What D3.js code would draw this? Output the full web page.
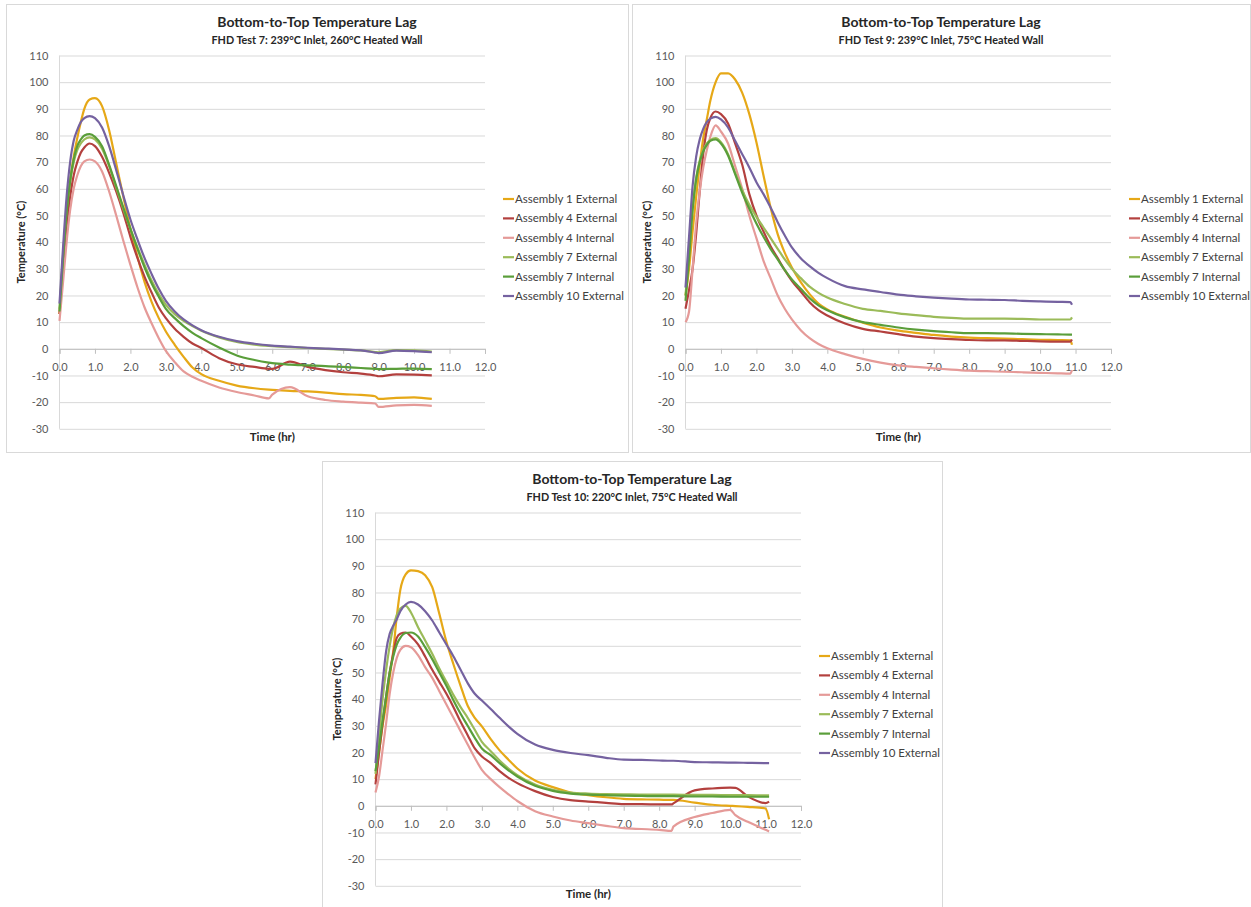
<!DOCTYPE html>
<html>
<head>
<meta charset="utf-8">
<script src="https://cdn.jsdelivr.net/npm/d3@7"></script>
<style>
  body { margin: 0; background: #fff; }
  text { font-family: Lato, "Open Sans", sans-serif; }
</style>
</head>
<body>
<svg id="chart" width="1251" height="907"></svg>
<script>
// ---- Data ----
const seriesNames = ["Assembly 1 External", "Assembly 4 External", "Assembly 4 Internal",
                     "Assembly 7 External", "Assembly 7 Internal", "Assembly 10 External"];
const seriesColors = ["#E6A817", "#B3403E", "#E59A98", "#9BBB59", "#5A9E3A", "#7562A0"];
const yTicks = [-30, -20, -10, 0, 10, 20, 30, 40, 50, 60, 70, 80, 90, 100, 110];
const xTicks = [0, 1, 2, 3, 4, 5, 6, 7, 8, 9, 10, 11, 12];

// FHD Test 7
const test7Time = [0,0.1,0.2,0.3,0.4,0.5,0.6,0.7, 0.85,1.0, 1.2,1.4,1.6,1.8,2.0, 2.2,2.4,2.6,2.8,3.0,
  3.25,3.5,3.75,4.0, 4.5,5.0,5.5,5.9,6.0, 6.5,7.0,7.5,8.0, 8.5,8.9,9.0, 9.5,10.0,10.5];
const test7A1Ext = [13,32,50,63,72,79,85,90, 93.5,94, 91,82,69.5,57,45, 34.5,25,17.5,11.5,6.5,
  1.5,-3,-7,-9.5, -12,-13.8,-14.8,-15.3,-15.4, -15.8,-16,-16.4,-17, -17.3,-17.8,-18.8, -18.4,-18.2,-18.8];
const test7A4Ext = [13,30,46,57,65,70,73.5,75.5, 77,76, 72,66,59,51,42, 34,27,21,15.5,11.5,
  7.5,4.5,2,0.3, -3.5,-5.8,-6.8,-7.5,-7.5, -4.8,-6.8,-8,-8.8, -9.3,-10,-10.3, -9.6,-9.7,-10];
const test7A4Int = [10.5,25,40,52,60,65,68.5,70.3, 71,70.3, 66.5,59,50,40.5,31.5, 23,15.5,9.5,4,-0.8,
  -5,-8.5,-10.5,-12, -14.5,-16.2,-17.5,-18.6,-17.2, -14.4,-17.8,-19.2,-19.8, -20.2,-20.5,-21.8, -21.2,-21,-21.4];
const test7A7Ext = [15,35,52,63,70,74.5,77,78.5, 79.3,78.5, 75,68.5,60.5,52.5,45, 38,31.5,25.5,20.5,16.5,
  13,10.5,8.5,6.8, 4.3,2.6,1.6,1.1,1, 0.6,0.3,0,-0.3, -0.6,-1.2,-1.3, -0.5,-0.6,-1.0];
const test7A7Int = [14,34,51,63,71,76,78.5,80, 80.5,79.5, 76,69,61,53,45, 37.5,30.5,24.5,19.5,15,
  11.5,8.5,6,4, 0.5,-2.5,-4.2,-5.2,-5.4, -5.9,-6.2,-6.5,-6.8, -7.2,-7.5,-7.6, -7.5,-7.4,-7.6];
const test7A10Ext = [17,38,57,70,78,82,85,86.5, 87.3,86.5, 83,76,67,57.5,48.5, 41,34,28,22.5,18,
  14,11,8.8,7, 4.5,2.9,1.9,1.3,1.2, 0.8,0.4,0.1,-0.2, -0.6,-1.4,-1.6, -0.7,-0.9,-1.3];

// FHD Test 9
const test9Time = [0,0.1,0.2,0.3,0.4,0.5,0.6,0.7, 0.85,1.0, 1.2,1.4,1.6,1.8,2.0, 2.2,2.4,2.6,2.8,3.0,
  3.25,3.5,3.75,4.0, 4.5,5.0,5.5,6.0, 6.5,7.0,7.5,8.0, 8.5,9.0,9.5,10.0, 10.5,10.85,10.9];
const test9A1Ext = [20,30,44,57,69,79,86,93, 100,103.3, 103.3,101, 96,88,77.5, 65,53,43,36,30.5,
  25,20.5,17,14.8, 12,9.8,8,6.8, 6,5.2,4.6,4.2, 4,3.8,3.6,3.4, 3.3,3.2,1.5];
const test9A4Ext = [15,22,30,43,59,73,82,86.5, 89,88, 84.5,77,69,58,50, 44,38.5,34,29.5,25.5,
  21.5,17.5,14.5,12.5, 9.5,7.5,6.5,5.5, 4.6,4,3.6,3.3, 3.2,3.2,3,2.8, 2.7,2.7,3.5];
const test9A4Int = [10,14,30,47,59,68,74.5,79.5, 83.8,81.5, 77,68.5,60,50,41.5, 33,26.5,20,15,11,
  7,4,1.8,0.2, -2,-3.8,-5.2,-6.2, -6.8,-7.3,-7.8,-8.2, -8.4,-8.6,-8.8,-9, -9.2,-9.3,-8];
const test9A7Ext = [20,36,53,64,70.5,74.5,77,78.3, 79,77.5, 73,66,59.5,54,49.5, 45.5,41.5,37.5,33.5,30,
  26.5,23.3,21,19.2, 16.8,15,14.2,13.3, 12.6,12,11.6,11.3, 11.3,11.3,11.2,11, 11,11,11.8];
const test9A7Int = [18,34,52,63.5,70,74,76.5,78, 78.5,77, 72.5,65.5,58.5,52.5,47, 42,37.5,33.5,29.5,26,
  22.5,19,16.3,14.5, 11.8,10,9,8, 7.2,6.6,6.2,5.9, 5.9,5.8,5.6,5.5, 5.4,5.3,5.3];
const test9A10Ext = [23,42,61,72,78.5,82.5,85,86.3, 87,86, 83,78,73,68,62.5, 58,53,47.5,42.5,38,
  34,31,28.5,26.5, 23.5,22.3,21.3,20.3, 19.7,19.2,18.8,18.5, 18.4,18.3,18,17.8, 17.6,17.5,16.5];

// FHD Test 10
const test10Time = [0,0.1,0.2,0.3,0.4,0.5,0.6,0.7, 0.85,1.0, 1.2,1.4,1.6,1.8,2.0, 2.2,2.4,2.6,2.8,3.0,
  3.25,3.5,3.75,4.0, 4.5,5.0,5.5,6.0, 6.5,7.0,7.5,8.0, 8.35,8.4,9.0,9.5, 10.0,10.15,10.5,11.0,11.1];
const test10A1Ext = [10,20,30,38,48,58,71,81, 86.8,88.3, 88,86.5,82,72,61.5, 53,45,37.5,33,29.8,
  25,20.8,17.3,14, 9.5,7,5,4, 3.2,2.6,2.4,2.3, 2.2,2.2,1.2,0.4, 0,-0.1,-0.4,-1,-5];
const test10A4Ext = [8,20,31,41,50,57,63,64.5, 65,63.5, 60.5,56,51,46.5,42, 37,31.5,26.5,21.5,18.5,
  16,13,10.5,8.5, 5.5,3.3,2.1,1.6, 1.1,0.6,0.6,0.5, 0.5,0.9,5.8,6.5, 6.8,6.7,3.5,1,1.6];
const test10A4Int = [5,11,21,31,42,50,55.5,58.5, 60,59.5, 56.5,52,48,43,38, 33,28,23,18,13.5,
  10,7,4.3,1.8, -2,-4,-5.5,-6.5, -7.5,-8.4,-8.7,-9, -9.4,-7.8,-4.2,-2.7, -1.5,-3.5,-6,-9,-9.6];
const test10A7Ext = [12,26,40,51,60,67,71.5,74, 75,72.5, 67,62,57,51.5,46.5, 41.5,37,33,28.5,24,
  20.5,17,14,11.5, 8,6,5,4.6, 4.4,4.3,4.2,4.2, 4.2,4.2,4.1,4.1, 4,4,4,3.9,3.9];
const test10A7Int = [13,22,32,41,50,56,60.5,63, 64.8,65, 63.5,59.5,55,50,45, 39.5,34.5,30,25.5,21.5,
  19,16,13.3,11, 7.5,5.6,4.6,4.2, 4,3.8,3.7,3.6, 3.6,3.6,3.5,3.5, 3.4,3.4,3.4,3.4,3.4];
const test10A10Ext = [16,32,46,58,64.5,67.5,70,73, 75.5,76.5, 75.5,73,69.5,65,60.5, 56,51,46,42,39.5,
  36.3,33,29.8,27, 23,21,19.8,19, 18,17.3,17.2,17, 16.9,16.9,16.4,16.3, 16.2,16.2,16.1,16,16];

const charts = [
  { title: "Bottom-to-Top Temperature Lag", subtitle: "FHD Test 7: 239°C Inlet, 260°C Heated Wall",
    time: test7Time, series: [test7A1Ext, test7A4Ext, test7A4Int, test7A7Ext, test7A7Int, test7A10Ext] },
  { title: "Bottom-to-Top Temperature Lag", subtitle: "FHD Test 9: 239°C Inlet, 75°C Heated Wall",
    time: test9Time, series: [test9A1Ext, test9A4Ext, test9A4Int, test9A7Ext, test9A7Int, test9A10Ext] },
  { title: "Bottom-to-Top Temperature Lag", subtitle: "FHD Test 10: 220°C Inlet, 75°C Heated Wall",
    time: test10Time, series: [test10A1Ext, test10A4Ext, test10A4Int, test10A7Ext, test10A7Int, test10A10Ext] }
];

// ---- Layout ----
const frames = [
  { x: 6, y: 4, w: 622, h: 448 },
  { x: 632, y: 4, w: 618, h: 448 },
  { x: 322, y: 461, w: 620, h: 446 }
];
const plotLeft = 53.5, plotWidth = 425.5, plotTop = 51.5, plotHeight = 373.3;

const svg = d3.select("#chart");
svg.append("rect").attr("width", 1251).attr("height", 907).attr("fill", "#fff");

function drawPanel(cfg, f) {
  const g = svg.append("g").attr("transform", `translate(${f.x},${f.y})`);

  g.append("rect")
    .attr("x", 0.5).attr("y", 0.5)
    .attr("width", f.w).attr("height", f.h)
    .attr("fill", "#fff").attr("stroke", "#d9d9d9");

  const xScale = d3.scaleLinear().domain([0, 12]).range([plotLeft, plotLeft + plotWidth]);
  const yScale = d3.scaleLinear().domain([-30, 110]).range([plotTop + plotHeight, plotTop]);

  // gridlines + y labels
  const yAxis = g.append("g")
    .attr("transform", `translate(${plotLeft},0)`)
    .call(d3.axisLeft(yScale).tickValues(yTicks).tickSize(-plotWidth).tickPadding(11).tickFormat(d => d));
  yAxis.select(".domain").remove();
  yAxis.selectAll("line").attr("stroke", "#d9d9d9");
  yAxis.selectAll("text").attr("fill", "#595959").style("font-size", "11px");

  g.append("line")
    .attr("x1", plotLeft).attr("x2", plotLeft)
    .attr("y1", plotTop).attr("y2", plotTop + plotHeight)
    .attr("stroke", "#d9d9d9");

  // x axis at zero
  const xAxis = g.append("g")
    .attr("transform", `translate(0,${yScale(0)})`)
    .call(d3.axisBottom(xScale).tickValues(xTicks).tickSize(5).tickPadding(9.5).tickFormat(d3.format(".1f")));
  xAxis.select(".domain").attr("stroke", "#bfbfbf");
  xAxis.selectAll("line").attr("stroke", "#bfbfbf");
  xAxis.selectAll("text").attr("fill", "#595959").style("font-size", "11px");

  // titles
  g.append("text").attr("x", f.w / 2).attr("y", 23)
    .attr("text-anchor", "middle").attr("font-weight", "bold")
    .attr("fill", "#262626").style("font-size", "14px").text(cfg.title);
  g.append("text").attr("x", f.w / 2).attr("y", 40)
    .attr("text-anchor", "middle").attr("font-weight", "bold")
    .attr("fill", "#262626").style("font-size", "10.8px").text(cfg.subtitle);

  g.append("text")
    .attr("transform", `translate(19,${plotTop + plotHeight / 2}) rotate(-90)`)
    .attr("text-anchor", "middle").attr("font-weight", "bold")
    .attr("fill", "#262626").style("font-size", "11px").text("Temperature (°C)");
  g.append("text")
    .attr("x", plotLeft + plotWidth / 2).attr("y", 437)
    .attr("text-anchor", "middle").attr("font-weight", "bold")
    .attr("fill", "#262626").style("font-size", "11.5px").text("Time (hr)");

  // lines
  const line = d3.line()
    .x(d => xScale(d[0]))
    .y(d => yScale(d[1]))
    .curve(d3.curveMonotoneX);

  cfg.series.forEach((vals, i) => {
    const pts = cfg.time.map((t, k) => [t, vals[k]]);
    g.append("path")
      .datum(pts)
      .attr("fill", "none")
      .attr("stroke", seriesColors[i])
      .attr("stroke-width", 2.2)
      .attr("stroke-linejoin", "round")
      .attr("d", line);
  });

  // legend
  const legend = g.append("g").attr("transform", "translate(497,195)");
  seriesNames.forEach((name, i) => {
    const row = legend.append("g").attr("transform", `translate(0,${i * 19.4})`);
    row.append("line").attr("x1", 0).attr("x2", 11).attr("y1", 0).attr("y2", 0)
      .attr("stroke", seriesColors[i]).attr("stroke-width", 2.2);
    row.append("text").attr("x", 12).attr("y", 4)
      .attr("fill", "#404040").style("font-size", "11.5px").text(name);
  });
}

charts.forEach((c, i) => drawPanel(c, frames[i]));
</script>
</body>
</html>
